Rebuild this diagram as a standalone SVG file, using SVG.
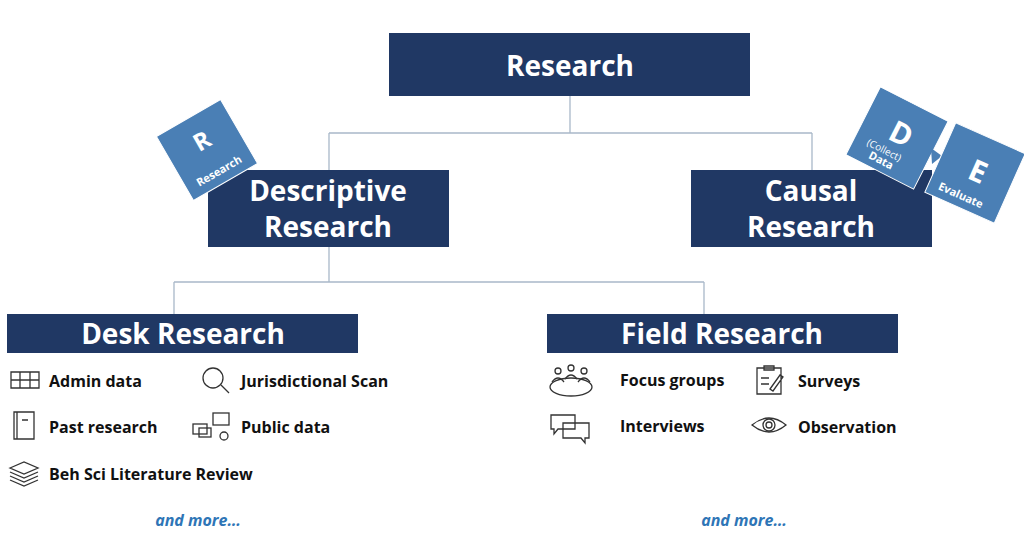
<svg xmlns="http://www.w3.org/2000/svg" width="1024" height="543" viewBox="0 0 1024 543">
<style>
.box{fill:#203864}
.bt{fill:#fff;font-family:"Open Sans","Liberation Sans",sans-serif;font-weight:bold;text-anchor:middle}
.lbl{font-family:"Open Sans","Liberation Sans",sans-serif;font-weight:bold;font-size:16px;fill:#111}
.ic{fill:none;stroke:#333;stroke-width:1.3}
.sq{fill:#4a7fb5;stroke:#fff;stroke-width:1}
.st{fill:#fff;font-family:"Open Sans","Liberation Sans",sans-serif;font-weight:bold;text-anchor:middle}
.more{fill:#2e75b6;font-family:"Open Sans","Liberation Sans",sans-serif;font-weight:bold;font-style:italic;font-size:16px;text-anchor:middle}
</style>
<rect width="1024" height="543" fill="#fff"/>
<g id="connectors" fill="none" stroke="#a9b8c9" stroke-width="1.3">
<path d="M570 96V133M329 133H812M329 133V170M812 133V170"/>
<path d="M329 247V282M174 282H704M174 282V314M704 282V314"/>
</g>
<g id="research"><rect class="box" x="389" y="33" width="361" height="63"/><text class="bt" x="570" y="76" font-size="28">Research</text></g>
<g id="descriptive"><rect class="box" x="208" y="170" width="241" height="77"/><text class="bt" x="328" y="201" font-size="28">Descriptive</text><text class="bt" x="328" y="237" font-size="28">Research</text></g>
<g id="causal"><rect class="box" x="691" y="170" width="241" height="77"/><text class="bt" x="811" y="201" font-size="28">Causal</text><text class="bt" x="811" y="237" font-size="28">Research</text></g>
<g id="tagR" transform="translate(207 150) rotate(-30)"><rect class="sq" x="-37" y="-37" width="74" height="74"/><text class="st" x="0" y="-2" font-size="24">R</text><text class="st" x="0" y="28" font-size="11">Research</text></g>
<g id="tagD" transform="translate(897 138) rotate(27)"><rect class="sq" x="-38" y="-38" width="76" height="76"/><text class="st" x="2" y="5" font-size="30">D</text><text x="-6" y="20" font-size="10" fill="#fff" font-family="Open Sans,sans-serif" text-anchor="middle">(Collect)</text><text class="st" x="-4" y="31" font-size="11">Data</text></g>
<polygon points="931,148 942,156 932,164" fill="#4a7fb5"/>
<g id="tagE" transform="translate(975 173) rotate(24)"><rect class="sq" x="-38" y="-38" width="76" height="76"/><text class="st" x="2" y="8" font-size="30">E</text><text class="st" x="-4" y="30" font-size="11">Evaluate</text></g>
<g id="desk"><rect class="box" x="7" y="314" width="351" height="39"/><text class="bt" x="183" y="344" font-size="28">Desk Research</text></g>
<g id="field"><rect class="box" x="547" y="314" width="351" height="39"/><text class="bt" x="722" y="344" font-size="28">Field Research</text></g>
<g id="desk-items">
<path class="ic" d="M11 372h28v16h-28zM11 380h28M20 372v16M30 372v16"/>
<text class="lbl" x="49" y="387">Admin data</text>
<path class="ic" d="M14 412h20v27h-20zM17 412v27M22 420h6"/>
<text class="lbl" x="49" y="433">Past research</text>
<path class="ic" d="M10 468l14-6 14 6-14 6zM10 472l14 6 14-6M10 476l14 6 14-6M10 480l14 6 14-6"/>
<text class="lbl" x="49" y="480">Beh Sci Literature Review</text>
<circle class="ic" cx="213" cy="378" r="10"/><path class="ic" d="M221 385l8 8" stroke-width="2"/>
<text class="lbl" x="241" y="387">Jurisdictional Scan</text>
<rect class="ic" x="213" y="413" width="16" height="12"/><rect class="ic" x="193" y="424" width="14" height="10"/><rect class="ic" x="199" y="428" width="12" height="9"/><circle class="ic" cx="224" cy="436" r="4"/>
<text class="lbl" x="241" y="433">Public data</text>
</g>
<g id="field-items">
<ellipse class="ic" cx="571" cy="387" rx="21" ry="9"/><circle class="ic" cx="558" cy="371" r="3"/><circle class="ic" cx="571" cy="368" r="3"/><circle class="ic" cx="584" cy="371" r="3"/><path class="ic" d="M552 382q6-8 12 0M565 379q6-8 12 0M578 382q6-8 12 0"/>
<text class="lbl" x="620" y="386">Focus groups</text>
<path class="ic" d="M551 415h24v14h-17l-4 5v-5h-3zM563 423h26v15h-4v5l-4-5h-18z"/>
<text class="lbl" x="620" y="432">Interviews</text>
<path class="ic" d="M757 368h24v26h-24zM764 366h10v4h-10zM761 378h8M761 384h8M770 389l10-14 3 2-10 14z"/>
<text class="lbl" x="798" y="387">Surveys</text>
<path class="ic" d="M752 425q17-14 34 0q-17 14-34 0z"/><circle class="ic" cx="769" cy="425" r="6"/><circle class="ic" cx="769" cy="425" r="3"/>
<text class="lbl" x="798" y="433">Observation</text>
</g>
<text class="more" x="198" y="526">and more…</text>
<text class="more" x="744" y="526">and more…</text>
</svg>
